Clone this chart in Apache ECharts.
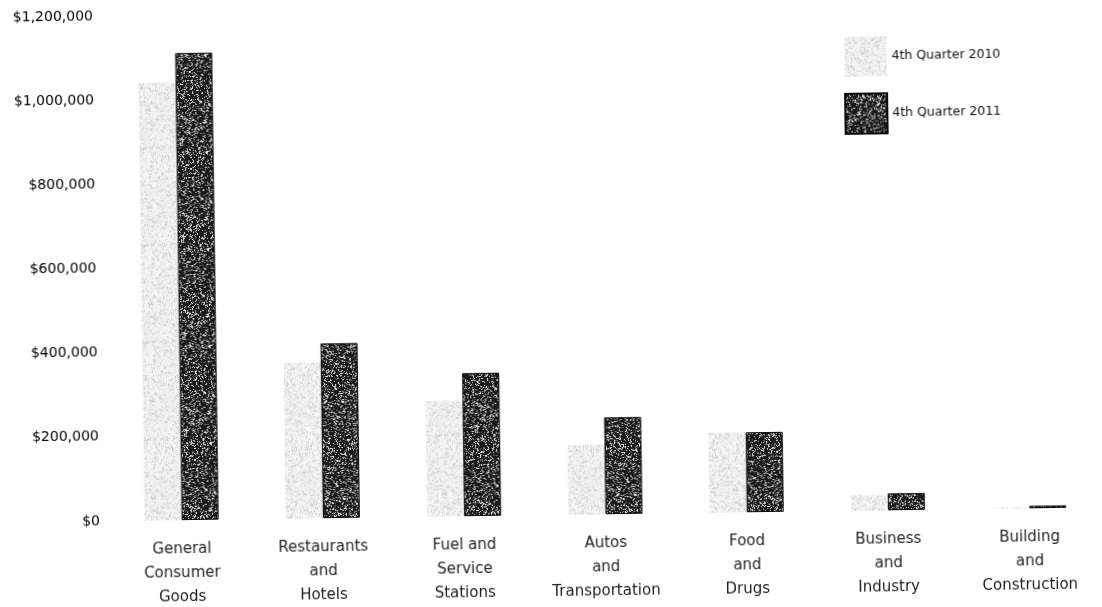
<!DOCTYPE html>
<html>
<head>
<meta charset="utf-8">
<title>Sales by Business Group, 4th Quarter 2010 vs 2011</title>
<script src="https://cdn.jsdelivr.net/npm/echarts@6/dist/echarts.min.js"></script>
<style>
  html, body { margin: 0; padding: 0; background: #fff; }
  #chart { width: 1102px; height: 607px; transform: rotate(-0.8deg); transform-origin: 50% 50%; }
</style>
</head>
<body>
<div id="chart"></div>
<script>
// Business groups on the category axis (multi-line labels)
const categories = [
  'General\nConsumer\nGoods',
  'Restaurants\nand\nHotels',
  'Fuel and\nService\nStations',
  'Autos\nand\nTransportation',
  'Food\nand\nDrugs',
  'Business\nand\nIndustry',
  'Building\nand\nConstruction'
];

// Quarterly sales in dollars
const q4_2010 = [1040000, 370000, 275000, 165000, 190000, 37000, 3000];
const q4_2011 = [1110000, 415000, 340000, 230000, 190000, 40000, 6000];

const seriesNames = ['4th Quarter 2010', '4th Quarter 2011'];

// Value axis ticks
const yMin = 0;
const yMax = 1200000;
const yStep = 200000;

// Speckled fill textures for the bars (seeded, so every render is identical)
function speckle(base, dots, density, seed) {
  const size = 97;
  const c = document.createElement('canvas');
  c.width = size; c.height = size;
  const g = c.getContext('2d');
  g.fillStyle = base;
  g.fillRect(0, 0, size, size);
  let s = seed >>> 0;
  const next = () => {
    s ^= s << 13; s >>>= 0;
    s ^= s >>> 17;
    s ^= s << 5; s >>>= 0;
    return s / 4294967296;
  };
  for (let y = 0; y < size; y++) {
    for (let x = 0; x < size; x++) {
      if (next() < density) {
        g.fillStyle = dots[Math.floor(next() * dots.length)];
        const r = next();
        const w = r < 0.15 ? 2 : 1;
        const h = r > 0.85 ? 2 : 1;
        g.fillRect(x, y, w, h);
      }
    }
  }
  return { image: c, repeat: 'repeat' };
}

const lightFill = speckle('#f4f4f4', ['#dedede', '#e6e6e6', '#d4d4d4', '#ebebeb', '#cacaca'], 0.28, 12345);
const darkFill = speckle('#1a1a1a', ['#8a8a8a', '#bdbdbd', '#e6e6e6', '#5e5e5e', '#d2d2d2'], 0.24, 67890);

const fmtMoney = v => '$' + String(v).replace(/\B(?=(\d{3})+(?!\d))/g, ',');

const chart = echarts.init(document.getElementById('chart'), null, { renderer: 'canvas' });

chart.setOption({
  backgroundColor: '#ffffff',
  animation: false,
  textStyle: { fontFamily: 'DejaVu Sans' },
  grid: { left: 108, right: 5, top: 10, bottom: 92, containLabel: false },
  legend: {
    orient: 'vertical',
    left: 842,
    top: 36,
    itemWidth: 42,
    itemHeight: 40,
    itemGap: 16,
    icon: 'rect',
    data: seriesNames,
    textStyle: { fontFamily: 'DejaVu Sans', fontSize: 12.5, color: '#111111' }
  },
  xAxis: {
    type: 'category',
    data: categories,
    axisLine: { show: false },
    axisTick: { show: false },
    axisLabel: {
      interval: 0,
      margin: 17,
      fontFamily: 'DejaVu Sans',
      fontSize: 15,
      lineHeight: 24,
      color: '#1f1f1f',
      align: 'center'
    }
  },
  yAxis: {
    type: 'value',
    min: yMin,
    max: yMax,
    interval: yStep,
    axisLine: { show: false },
    axisTick: { show: false },
    splitLine: { show: false },
    axisLabel: {
      margin: 11,
      fontFamily: 'DejaVu Sans',
      fontSize: 14,
      color: '#000000',
      formatter: fmtMoney
    }
  },
  series: [
    {
      name: seriesNames[0],
      type: 'bar',
      data: q4_2010,
      barWidth: 37,
      barGap: '0%',
      itemStyle: { color: lightFill, borderWidth: 0 }
    },
    {
      name: seriesNames[1],
      type: 'bar',
      data: q4_2011,
      barWidth: 37,
      barGap: '0%',
      itemStyle: { color: darkFill, borderColor: '#0a0a0a', borderWidth: 1 }
    }
  ]
});
</script>
</body>
</html>
